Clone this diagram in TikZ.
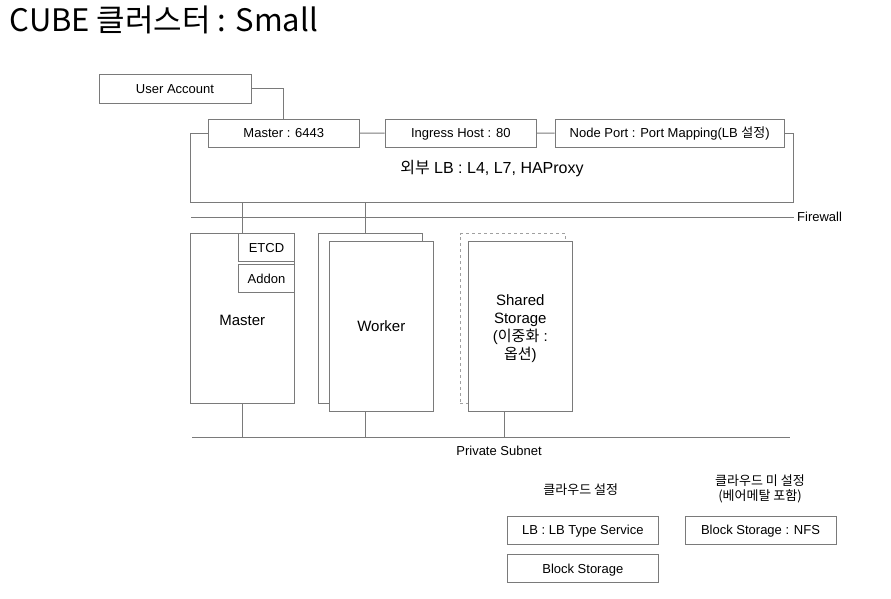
\documentclass[tikz,border=0pt]{standalone}
\usepackage{fontspec}
\setmainfont{Liberation Sans}
\newfontfamily\kr{Noto Sans CJK KR}
\definecolor{linec}{HTML}{7A7A7A}
\definecolor{dashc}{HTML}{A0A0A0}
\begin{document}
\begin{tikzpicture}[x=1pt,y=-1pt,
  conn/.style={draw=linec, line width=1pt},
  box/.style={draw=linec, line width=1pt, fill=white, inner sep=0pt, align=center,
              font=\fontsize{13}{15}\selectfont},
  smallbox/.style={box, minimum width=151pt, minimum height=28pt, text height=9.4pt, text depth=0pt},
  bigbox/.style={box, minimum width=104pt, minimum height=170.3pt, font=\fontsize{15}{18}\selectfont},
  lbl/.style={inner sep=0pt, align=center, font=\fontsize{13}{15}\selectfont},
  ]
\useasboundingbox (0,0) rectangle (891,598);

% title
\node[anchor=base west, inner sep=0pt, font=\kr\fontsize{31}{35}\selectfont] (title) at (9.5,31) {CUBE 클러스터 : Small};

% top boxes
\node[smallbox, minimum width=152pt, minimum height=29pt] (ua) at (175,88.5) {User Account};
\node[smallbox] (m6443) at (283.8,133.2) {Master : 6443};
\node[smallbox, minimum width=151.5pt] (ing) at (460.8,133) {Ingress Host : 80};
\node[smallbox, minimum width=229.3pt] (np) at (669.7,133.2) {Node Port : Port Mapping(LB {\kr 설정})};

\draw[conn] (ua.east) -| (m6443.north);
\draw[conn] (m6443.east) -- (ing.west);
\draw[conn] (ing.east) -- (np.west);

% outer LB
\coordinate (lbbl) at (190.7,202.3);
\coordinate (lbbr) at (793.3,202.3);
\draw[conn] (m6443.west) -| (lbbl) -- (lbbr) |- (np.east);
\node[lbl, font=\fontsize{16}{19}\selectfont] (lbtext) at (492,169) {{\kr 외부} LB : L4, L7, HAProxy};

% firewall
\coordinate (fwl) at (191,217.3);
\coordinate (fwr) at (794,217.3);
\draw[conn] (fwl) -- (fwr);
\node[lbl, anchor=west] (fwtext) at (797,217.3) {Firewall};

% master
\node[bigbox] (master) at (242.5,318.8) {};
\node[lbl, font=\fontsize{15}{18}\selectfont] (mastertext) at (242.3,320) {Master};
\node[smallbox, minimum width=56.4pt] (etcd) at (266.5,247.7) {ETCD};
\node[smallbox, minimum width=56.4pt] (addon) at (266.5,278.7) {Addon};

% worker
\node[bigbox] (wback) at (370,318.8) {};
\node[bigbox] (wfront) at (381.3,326.5) {Worker};

% storage
\node[bigbox, draw=dashc, dashed, minimum width=105pt] (sback) at (512.8,318.8) {};
\node[bigbox] (sfront) at (520.3,326.5) {};
\node[lbl, font=\fontsize{15}{18}\selectfont] (sftext) at (520.3,329) {Shared\\Storage\\({\kr 이중화} :\\{\kr 옵션})};

% vertical links from LB
\coordinate (wx) at (365.5,202.3);
\draw[conn] (master.north |- lbbl) -- (master.north);
\draw[conn] (wx) -- (wx |- wback.north);

% private subnet
\coordinate (psl) at (192,437.3);
\coordinate (psr) at (790,437.3);
\draw[conn] (psl) -- (psr);
\node[lbl] (pstext) at (499,450.5) {Private Subnet};
\coordinate (sx) at (504.3,437.3);
\draw[conn] (master.south) -- (master.south |- psl);
\draw[conn] (wx |- wfront.south) -- (wx |- psl);
\draw[conn] (sx |- sfront.south) -- (sx);

% bottom legend
\node[lbl, font=\kr\fontsize{13}{15}\selectfont] (cloud) at (580.7,490) {클라우드 설정};
\node[smallbox] (lbtype) at (582.8,530) {LB : LB Type Service};
\node[smallbox] (block) at (582.8,568.5) {Block Storage};
\node[lbl, font=\kr\fontsize{13}{15}\selectfont] (nocloud) at (760,489) {클라우드 미 설정\\(베어메탈 포함)};
\node[smallbox] (nfs) at (760.5,530) {Block Storage : NFS};
\end{tikzpicture}
\end{document}
